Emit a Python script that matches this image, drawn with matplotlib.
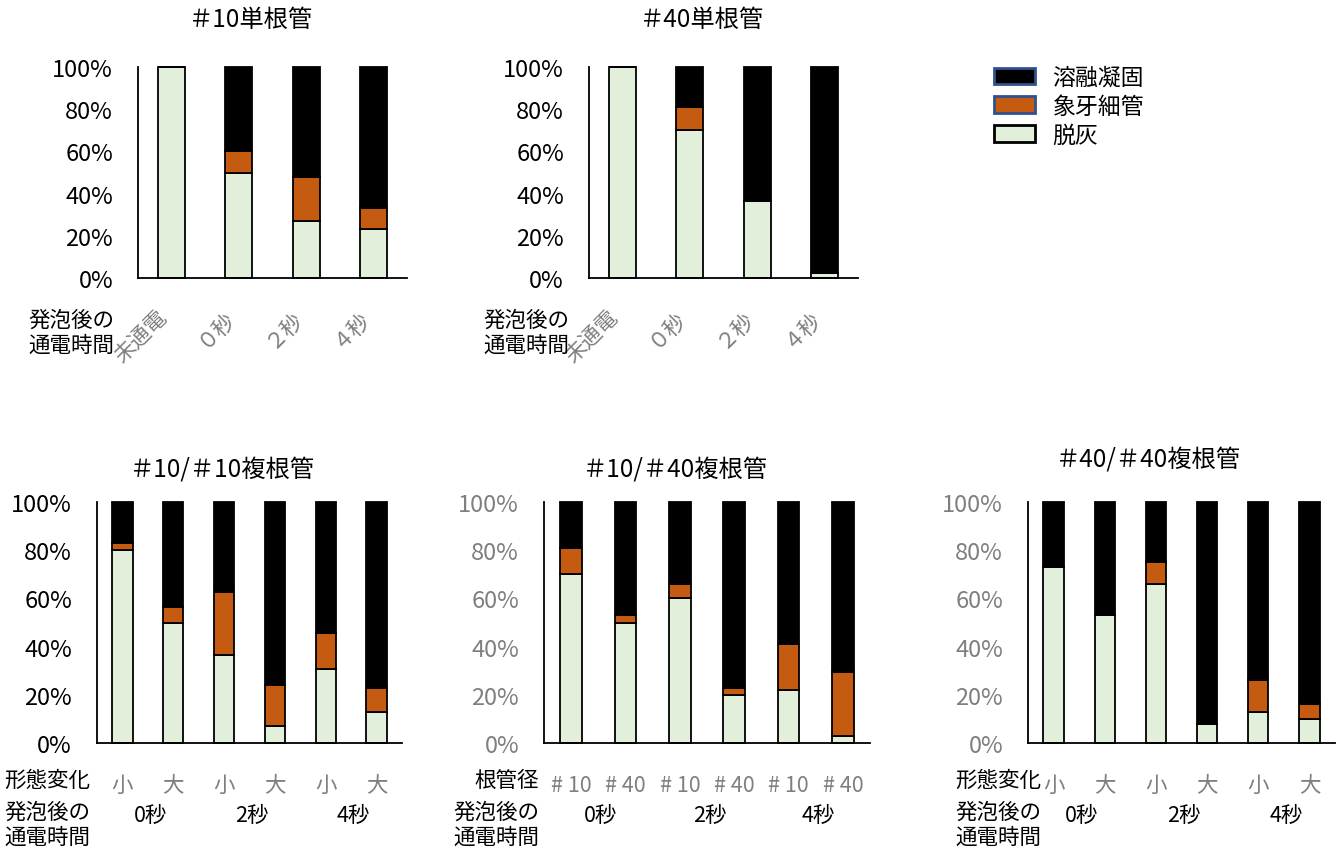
import matplotlib
matplotlib.use("Agg")
import matplotlib.pyplot as plt
from matplotlib.patches import Patch
from matplotlib.ticker import PercentFormatter

plt.rcParams['font.family'] = ['Noto Sans CJK JP', 'DejaVu Sans']

# ---- data (percent) ----
single_cats = ['未通電', '０秒', '２秒', '４秒']

s10_demin = [100, 50, 27, 23]
s10_tubule = [0, 10, 21, 10]
s10_melt = [0, 40, 52, 67]

s40_demin = [100, 70, 36.5, 2.4]
s40_tubule = [0, 11, 0, 0]
s40_melt = [0, 19, 63.5, 97.6]

shape_cats = ['小', '大', '小', '大', '小', '大']
diam_cats = ['# 10', '# 40', '# 10', '# 40', '# 10', '# 40']
time_groups = ['0秒', '2秒', '4秒']

m1010_demin = [80, 50, 36.7, 7, 30.6, 13]
m1010_tubule = [3, 6.5, 25.8, 17, 15, 10]
m1010_melt = [17, 43.5, 37.5, 76, 54.4, 77]

m1040_demin = [70, 50, 60, 20, 22, 3]
m1040_tubule = [11, 3, 6, 3, 19, 26.5]
m1040_melt = [19, 47, 34, 77, 59, 70.5]

m4040_demin = [73, 53, 66, 8, 13, 10]
m4040_tubule = [0, 0, 9, 0, 13, 6]
m4040_melt = [27, 47, 25, 92, 74, 84]

legend_labels = ['溶融凝固', '象牙細管', '脱灰']

GREEN = '#E2EFDA'
ORANGE = '#C55A11'
BLACK = '#000000'
GRAY = '#7F7F7F'

TICK_FS = 17
LAB_FS = 15.5
TITLE_FS = 17.5

W, H = 1343, 853
fig = plt.figure(figsize=(W / 100, H / 100), dpi=100)


def px(x, y):
    return x / W, 1 - y / H


def make_axes(left, top, right, bottom):
    return fig.add_axes([left / W, 1 - bottom / H, (right - left) / W, (bottom - top) / H])


def stacked(ax, demin, tubule, melt, ytick_color='black'):
    x = list(range(len(demin)))
    mid = [d + t for d, t in zip(demin, tubule)]
    kw = dict(width=0.4, edgecolor='black', linewidth=1.3, clip_on=False)
    ax.bar(x, demin, color=GREEN, **kw)
    ax.bar(x, tubule, bottom=demin, color=ORANGE, **kw)
    ax.bar(x, melt, bottom=mid, color=BLACK, **kw)
    ax.set_xlim(-0.5, len(demin) - 0.5)
    ax.set_ylim(0, 100)
    ax.set_yticks(range(0, 101, 20))
    ax.yaxis.set_major_formatter(PercentFormatter(100, decimals=0))
    ax.tick_params(axis='y', length=0, pad=18, labelsize=TICK_FS, labelcolor=ytick_color)
    ax.set_xticks(x)
    for s in ('top', 'right'):
        ax.spines[s].set_visible(False)
    for s in ('left', 'bottom'):
        ax.spines[s].set_linewidth(1.3)
    return x


# ---- top row: single root canal ----
ax1 = make_axes(138, 68, 407, 279)
stacked(ax1, s10_demin, s10_tubule, s10_melt)
ax1.set_xticklabels(single_cats, rotation=45, ha='right', color=GRAY, fontsize=LAB_FS)
ax1.tick_params(axis='x', length=0, pad=20)
fig.text(*px(251, 20), '＃10単根管', ha='center', va='center', fontsize=TITLE_FS)
fig.text(*px(114, 333), '発泡後の\n通電時間', ha='right', va='center', fontsize=LAB_FS,
         linespacing=1.15)

ax2 = make_axes(589, 68, 858, 279)
stacked(ax2, s40_demin, s40_tubule, s40_melt)
ax2.set_xticklabels(single_cats, rotation=45, ha='right', color=GRAY, fontsize=LAB_FS)
ax2.tick_params(axis='x', length=0, pad=20)
fig.text(*px(702, 20), '＃40単根管', ha='center', va='center', fontsize=TITLE_FS)
fig.text(*px(569, 333), '発泡後の\n通電時間', ha='right', va='center', fontsize=LAB_FS,
         linespacing=1.15)

# ---- bottom row: multi root canal ----
panels = [
    (97, 402, m1010_demin, m1010_tubule, m1010_melt, shape_cats, '形態変化', 'black',
     '＃10/＃10複根管', (222, 470), 90),
    (544, 870, m1040_demin, m1040_tubule, m1040_melt, diam_cats, '根管径', GRAY,
     '＃10/＃40複根管', (675, 470), 539),
    (1028, 1335, m4040_demin, m4040_tubule, m4040_melt, shape_cats, '形態変化', GRAY,
     '＃40/＃40複根管', (1148, 460), 1041),
]
for left, right, dm, tb, ml, cats, rowlab, ycol, title, tpos, lab_r in panels:
    ax = make_axes(left, 503, right, 744)
    stacked(ax, dm, tb, ml, ytick_color=ycol)
    ax.set_xticklabels(cats, color=GRAY, fontsize=LAB_FS)
    ax.tick_params(axis='x', length=0, pad=22)
    fig.text(*px(tpos[0], tpos[1]), title, ha='center', va='center', fontsize=TITLE_FS)
    fig.text(*px(lab_r, 781), rowlab, ha='right', va='center', fontsize=LAB_FS)
    fig.text(*px(lab_r, 825), '発泡後の\n通電時間', ha='right', va='center', fontsize=LAB_FS,
             linespacing=1.15)
    for g, lab in enumerate(time_groups):
        ax.text(2 * g + 0.55, -0.3, lab, transform=ax.get_xaxis_transform(),
                ha='center', va='center', fontsize=LAB_FS)

# ---- legend ----
handles = [
    Patch(facecolor=BLACK, edgecolor='#2F528F', linewidth=2),
    Patch(facecolor=ORANGE, edgecolor='#2F528F', linewidth=2),
    Patch(facecolor=GREEN, edgecolor='black', linewidth=2),
]
fig.legend(handles, legend_labels, loc='upper left', bbox_to_anchor=px(994, 67),
           frameon=False, fontsize=16.5, handlelength=1.8, handleheight=0.75,
           handletextpad=0.75, labelspacing=0.25, borderaxespad=0, borderpad=0)

fig.savefig('out.png', dpi=100)
